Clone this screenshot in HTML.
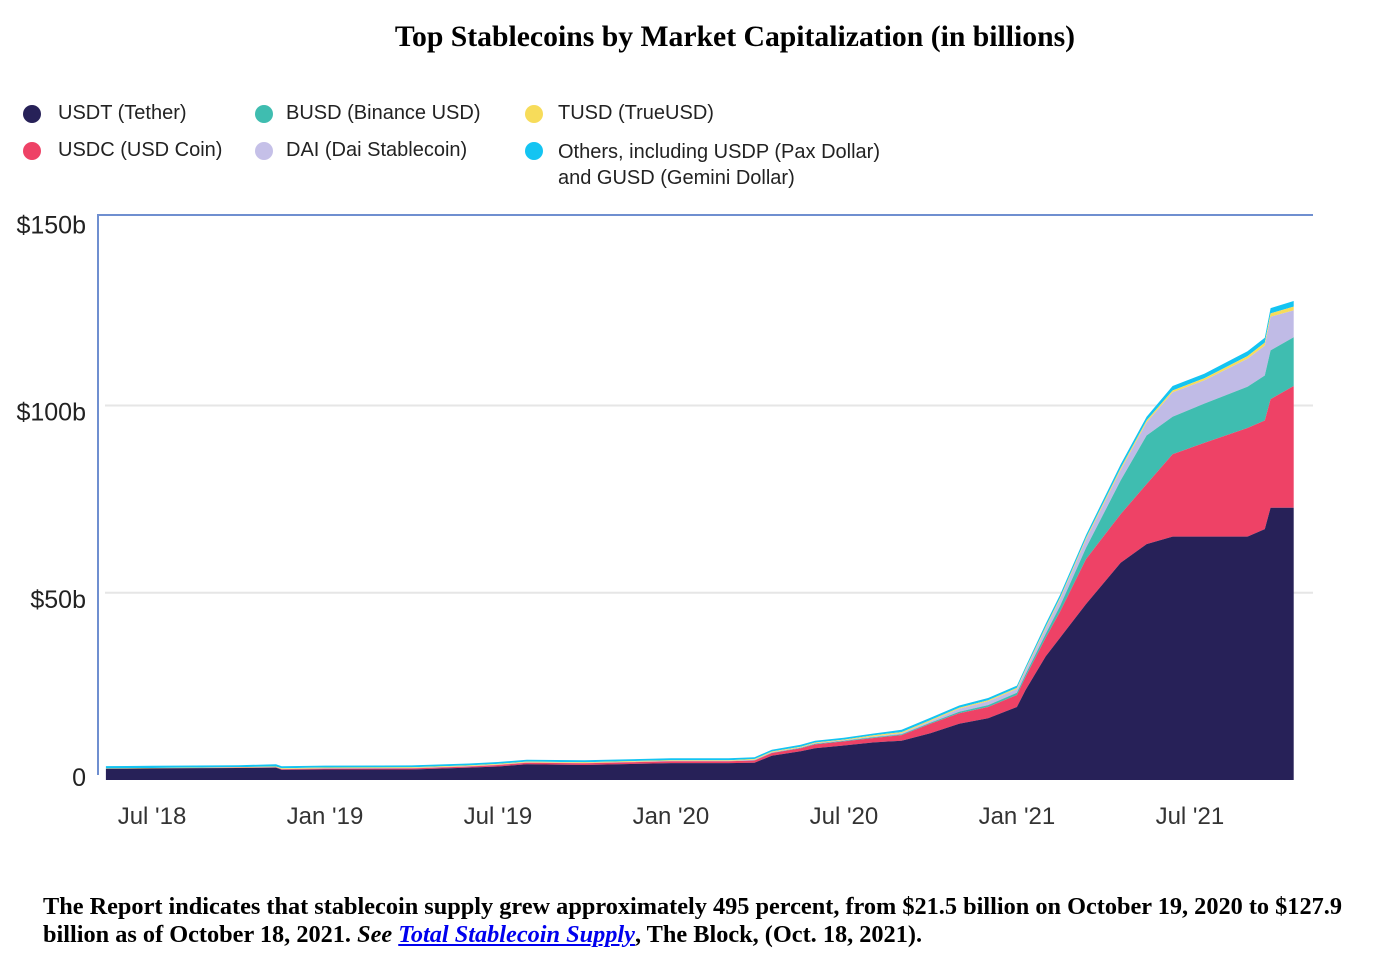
<!DOCTYPE html>
<html><head><meta charset="utf-8"><style>
body{margin:0;background:#fff;width:1380px;height:979px;overflow:hidden;position:relative}
.t{position:absolute;white-space:nowrap}
.lg{font-family:"Liberation Sans",sans-serif;font-size:20px;color:#222}
.dot{position:absolute;width:18px;height:18px;border-radius:50%}
.fn{font-family:"Liberation Serif",serif;font-weight:bold;font-size:24.3px;color:#000;left:43px}
</style></head><body>
<div class="t" style="left:0;width:1470px;text-align:center;top:21px;font-family:'Liberation Serif',serif;font-weight:bold;font-size:29.7px">Top Stablecoins by Market Capitalization (in billions)</div>

<div>
<div class="dot" style="left:23px;top:105px;background:#272158"></div>
<div class="t lg" style="left:58px;top:102px">USDT (Tether)</div>
<div class="dot" style="left:23px;top:142px;background:#ee4266"></div>
<div class="t lg" style="left:58px;top:139px">USDC (USD Coin)</div>
<div class="dot" style="left:255px;top:105px;background:#3fbdb0"></div>
<div class="t lg" style="left:286px;top:102px">BUSD (Binance USD)</div>
<div class="dot" style="left:255px;top:142px;background:#c5c0e8"></div>
<div class="t lg" style="left:286px;top:139px">DAI (Dai Stablecoin)</div>
<div class="dot" style="left:525px;top:105px;background:#f7dc5a"></div>
<div class="t lg" style="left:558px;top:102px">TUSD (TrueUSD)</div>
<div class="dot" style="left:525px;top:142px;background:#14c4f2"></div>
<div class="t lg" style="left:558px;top:139px;line-height:26px">Others, including USDP (Pax Dollar)<br>and GUSD (Gemini Dollar)</div>
</div>

<svg id="chart" width="1380" height="870" style="position:absolute;left:0;top:0"></svg>

<div class="t fn" style="top:893px">The Report indicates that stablecoin supply grew approximately 495 percent, from $21.5 billion on October 19, 2020 to $127.9</div>
<div class="t fn" style="top:921px">billion as of October 18, 2021. <i>See</i> <a style="color:#00e;font-style:italic;text-decoration:underline">Total Stablecoin Supply</a>, The Block, (Oct. 18, 2021).</div>

<script>
// months since Jan 2018
const months=[4.4,6,9,10.3,10.5,12,15,17,18,19,21,24,26,26.9,27.5,28.5,29,30,31,32,33,34,35,36,36.3,37,37.5,38.4,39.6,40.5,41.4,42.5,44,44.6,44.8,45.6];
const usdt=[3.0,3.1,3.2,3.3,2.7,2.8,2.8,3.3,3.6,4.2,4.0,4.5,4.5,4.6,6.5,7.7,8.5,9.2,10.0,10.5,12.5,15.0,16.5,19.5,24,33,38,47,58,63,65,65,65,67,72.7,72.7];
const usdc=[0,0,0.1,0.1,0.2,0.25,0.3,0.3,0.4,0.4,0.45,0.5,0.5,0.6,0.7,0.8,1.0,1.1,1.2,1.5,2.5,2.8,3.0,3.2,3.5,5,7,12,13,16,22,25,29,29,29,32.5];
const busd=[0,0,0,0,0,0,0,0,0,0,0,0,0,0.1,0.1,0.1,0.2,0.2,0.2,0.2,0.3,0.4,0.5,0.6,0.7,1,1.5,3,9,13,10,10.5,11,12,13,13];
const dai=[0,0,0.05,0.05,0.05,0.1,0.1,0.1,0.1,0.1,0.1,0.1,0.1,0.1,0.1,0.1,0.1,0.1,0.2,0.3,0.4,0.8,1.0,1.0,1.1,1.5,1.8,2.3,2.8,3.5,6.5,6.2,7.5,8,9,7.2];
const tusd=[0.1,0.1,0.1,0.15,0.2,0.2,0.2,0.2,0.2,0.2,0.2,0.2,0.2,0.2,0.2,0.2,0.2,0.2,0.3,0.3,0.3,0.3,0.3,0.3,0.3,0.4,0.4,0.4,0.5,0.5,0.5,0.6,0.7,0.8,0.9,1.0];
const others=[0.6,0.6,0.5,0.6,0.5,0.5,0.5,0.5,0.5,0.5,0.5,0.5,0.5,0.5,0.5,0.5,0.5,0.5,0.5,0.6,0.6,0.6,0.6,0.6,0.6,0.8,0.8,0.8,1,1,1.2,1.2,1.3,1.3,1.4,1.5];
const yTicks=[0,50,100,150];
const yTickLabels=["0","$50b","$100b","$150b"];
const xTickMonths=[6,12,18,24,30,36,42];
const xTickLabels=["Jul '18","Jan '19","Jul '19","Jan '20","Jul '20","Jan '21","Jul '21"];

const NS="http://www.w3.org/2000/svg";
const svg=document.getElementById('chart');
const X=m=>152+(m-6)*28.83;
const Y=v=>780-v*3.745;
function mk(tag,attrs){const e=document.createElementNS(NS,tag);for(const k in attrs)e.setAttribute(k,attrs[k]);svg.appendChild(e);return e;}

yTicks.forEach((v,i)=>{
  if(v>0&&v<150){const g=mk('line',{x1:105,x2:1313,y1:Y(v),y2:Y(v),stroke:'#e6e6e6','stroke-width':2});
  
  }
  const t=mk('text',{x:86,y:Y(v)+(v==0?6:15),'text-anchor':'end','font-family':'Liberation Sans, sans-serif','font-size':25,fill:'#222'});
  t.textContent=yTickLabels[i];
  
  
});
xTickMonths.forEach((m,i)=>{
  const t=mk('text',{x:X(m),y:824,'text-anchor':'middle','font-family':'Liberation Sans, sans-serif','font-size':24,fill:'#333'});
  t.textContent=xTickLabels[i];
  
  
});

const series=[[usdt,'#272158','area-usdt'],[usdc,'#ee4266','area-usdc'],[busd,'#3fbdb0','area-busd'],[dai,'#c0bbe6','area-dai'],[tusd,'#f7dc5a','area-tusd'],[others,'#14c4f2','area-others']];
let base=months.map(()=>0);
series.forEach(([arr,col,name])=>{
  const top=base.map((b,i)=>b+arr[i]);
  let d='M'+months.map((m,i)=>X(m).toFixed(1)+','+Y(top[i]).toFixed(1)).join('L');
  for(let i=months.length-1;i>=0;i--)d+='L'+X(months[i]).toFixed(1)+','+Y(base[i]).toFixed(1);
  const p=mk('path',{d:d+'Z',fill:col});
  
  
  base=top;
});
const paths=[...svg.querySelectorAll('path')].reverse();paths.forEach(p=>svg.appendChild(p));

const ax=mk('path',{d:'M98,775L98,215L1313,215',fill:'none',stroke:'#6f8fd0','stroke-width':2});


</script>
</body></html>
